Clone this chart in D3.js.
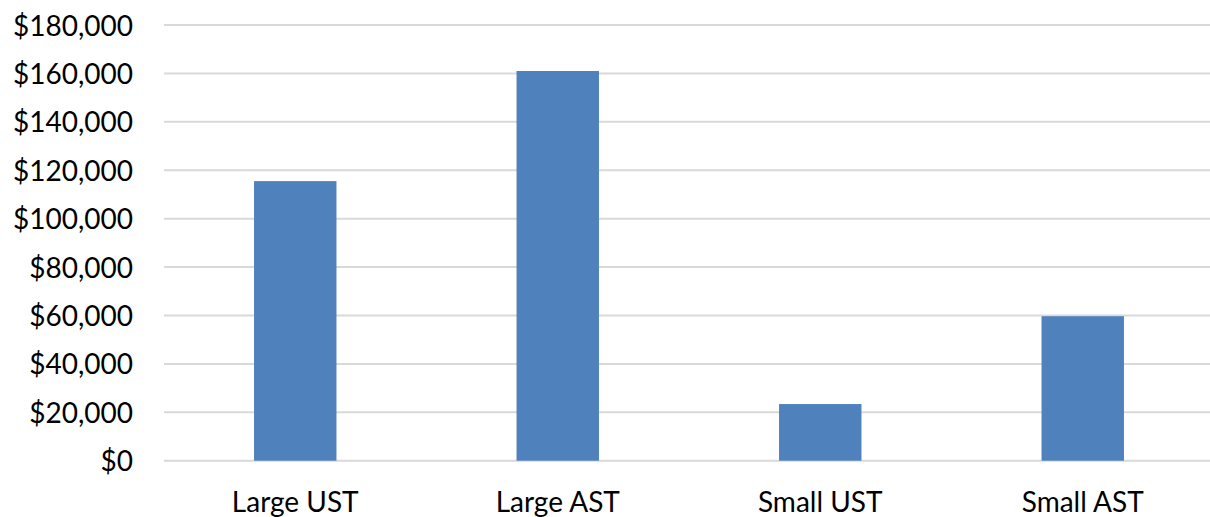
<!DOCTYPE html>
<html>
<head>
<meta charset="utf-8">
<script src="https://cdn.jsdelivr.net/npm/d3@7"></script>
<style>
  html, body { margin: 0; padding: 0; background: #fff; }
  svg { display: block; }
  text { font-family: Lato, "Open Sans", sans-serif; fill: #000; }
</style>
</head>
<body>
<svg id="chart" width="1210" height="517"></svg>
<script>
// Tank categories and their costs (USD)
const categories = ["Large UST", "Large AST", "Small UST", "Small AST"];
const costs = [115500, 161000, 23400, 59700];
const yTicks = [0, 20000, 40000, 60000, 80000, 100000, 120000, 140000, 160000, 180000];

const W = 1210, H = 517;
const plot = { left: 164, right: 1214, top: 25, bottom: 460.7 };

const svg = d3.select("#chart");

const x = d3.scaleBand()
  .domain(categories)
  .range([plot.left, plot.right])
  .paddingInner(0.686)
  .paddingOuter(0.343);

const y = d3.scaleLinear()
  .domain([0, 180000])
  .range([plot.bottom, plot.top]);

const fmt = v => "$" + d3.format(",")(v);

// Horizontal gridlines
svg.append("g")
  .selectAll("line")
  .data(yTicks)
  .join("line")
  .attr("x1", plot.left)
  .attr("x2", W)
  .attr("y1", d => y(d))
  .attr("y2", d => y(d))
  .attr("stroke", "#d9d9d9")
  .attr("stroke-width", 2);

// Y axis labels
const yAxis = d3.axisLeft(y).tickValues(yTicks).tickFormat(fmt).tickSize(0).tickPadding(0);
const gy = svg.append("g")
  .attr("transform", `translate(${133},0)`)
  .call(yAxis);
gy.select(".domain").remove();
gy.selectAll("text")
  .attr("font-family", "Lato, 'Open Sans', sans-serif")
  .attr("font-size", 28)
  .attr("fill", "#000")
  .attr("dy", "0.36em");

// Bars
svg.append("g")
  .selectAll("rect")
  .data(categories.map((c, i) => ({ c, v: costs[i] })))
  .join("rect")
  .attr("x", d => x(d.c))
  .attr("width", x.bandwidth())
  .attr("y", d => y(d.v))
  .attr("height", d => y(0) - y(d.v))
  .attr("fill", "#4f81bd");

// X axis labels
const xAxis = d3.axisBottom(x).tickSize(0).tickPadding(0);
const gx = svg.append("g")
  .attr("transform", `translate(0,${plot.bottom})`)
  .call(xAxis);
gx.select(".domain").remove();
gx.selectAll("text")
  .attr("font-family", "Lato, 'Open Sans', sans-serif")
  .attr("font-size", 28)
  .attr("fill", "#000")
  .attr("dy", null)
  .attr("y", 51);
</script>
</body>
</html>
